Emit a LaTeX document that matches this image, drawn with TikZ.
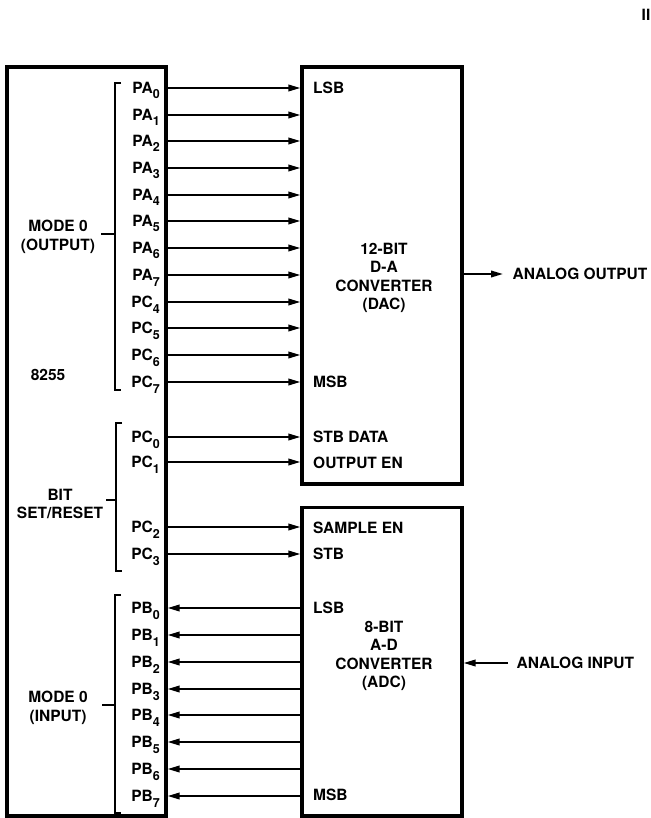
\documentclass[tikz,border=0pt]{standalone}
\usepackage{fontspec}
\setmainfont{TeX Gyre Heros}
\usetikzlibrary{arrows.meta}
\newcommand\pinsub[1]{\raisebox{-5.5pt}{\fontsize{12.5}{12.5}\selectfont #1}}
\begin{document}
\begin{tikzpicture}[x=1pt,y=-1pt,
  txt/.style={font=\fontsize{15.5}{18.5}\selectfont\bfseries, inner sep=0pt},
  blk/.style={draw, line width=3.2pt, inner sep=0pt},
  sig/.style={line width=2pt, -{Triangle[length=12pt,width=6.5pt]}},
  brk/.style={line width=1.1pt}]
\useasboundingbox (0,0) rectangle (650,818);
% blocks
\node[blk, minimum width=159pt, minimum height=749pt] (chip) at (86.5,441.5) {};
\node[blk, minimum width=160pt, minimum height=417pt] (dac) at (382,275.5) {};
\node[blk, minimum width=160pt, minimum height=308.5pt] (adc) at (382,661.75) {};
% output rows
\foreach \n/\s/\y in {PA/0/88, PA/1/115, PA/2/141, PA/3/168, PA/4/195, PA/5/221, PA/6/248, PA/7/275, PC/4/302, PC/5/328, PC/6/355, PC/7/382, PC/0/437, PC/1/462} {
  \coordinate (o\n\s) at (0,\y);
  \node[txt, anchor=base east] (l\n\s) at (160,\y+5.5) {\n\pinsub{\s}};
  \draw[sig] (chip.east |- o\n\s) -- (dac.west |- o\n\s);
}
\foreach \n/\s/\y in {PC/2/527, PC/3/554} {
  \coordinate (o\n\s) at (0,\y);
  \node[txt, anchor=base east] (l\n\s) at (160,\y+5.5) {\n\pinsub{\s}};
  \draw[sig] (chip.east |- o\n\s) -- (adc.west |- o\n\s);
}
% input rows
\foreach \s/\y in {0/608, 1/635, 2/662, 3/689, 4/715, 5/742, 6/769, 7/796} {
  \coordinate (iPB\s) at (0,\y);
  \node[txt, anchor=base east] (lPB\s) at (160,\y+5.5) {PB\pinsub{\s}};
  \draw[sig] (adc.west |- iPB\s) -- (chip.east |- iPB\s);
}
% DAC pin labels
\node[txt, anchor=base west] (dlsb) at (313,93.5) {LSB};
\node[txt, anchor=base west] (dmsb) at (313,387.2) {MSB};
\node[txt, anchor=base west] (dstb) at (313,442.5) {STB DATA};
\node[txt, anchor=base west] (doen) at (313,468) {OUTPUT EN};
\node[txt, align=center] (dtitle) at (384,278) {12-BIT\\D-A\\CONVERTER\\(DAC)};
% ADC pin labels
\node[txt, anchor=base west] (asen) at (313,533.8) {SAMPLE EN};
\node[txt, anchor=base west] (astb) at (313,559.8) {STB};
\node[txt, anchor=base west] (alsb) at (313,613.8) {LSB};
\node[txt, anchor=base west] (amsb) at (313,800.5) {MSB};
\node[txt, align=center] (atitle) at (384,656) {8-BIT\\A-D\\CONVERTER\\(ADC)};
% analog
\coordinate (aoy) at (0,274);
\node[txt, anchor=west] (aout) at (512.5,274) {ANALOG OUTPUT};
\draw[sig] (dac.east |- aoy) -- (503,274);
\node[txt, anchor=west] (ain) at (516.5,663) {ANALOG INPUT};
\coordinate (aiy) at (508,663);
\draw[sig] (aiy) -- (adc.east |- aiy);
% 8255 side texts
\node[txt] (chipname) at (48,375) {8255};
\node[txt, align=center] (mout) at (58,237) {MODE 0\\(OUTPUT)};
\node[txt, align=center] (bsr) at (60,504) {BIT\\SET/RESET};
\node[txt, align=center] (min) at (58,708) {MODE 0\\(INPUT)};
% brackets
\draw[brk] (121,83) -- (115,83) -- (115,390) -- (121,390);
\draw[brk] (115,234) -- (101,234);
\draw[brk] (122,423) -- (116,423) -- (116,571) -- (122,571);
\draw[brk] (116,500) -- (106,500);
\draw[brk] (121,595) -- (115,595) -- (115,813) -- (121,813);
\draw[brk] (115,705) -- (102,705);
% page marker
\node[txt, anchor=west] (pmark) at (641.5,15) {II};
\end{tikzpicture}
\end{document}
